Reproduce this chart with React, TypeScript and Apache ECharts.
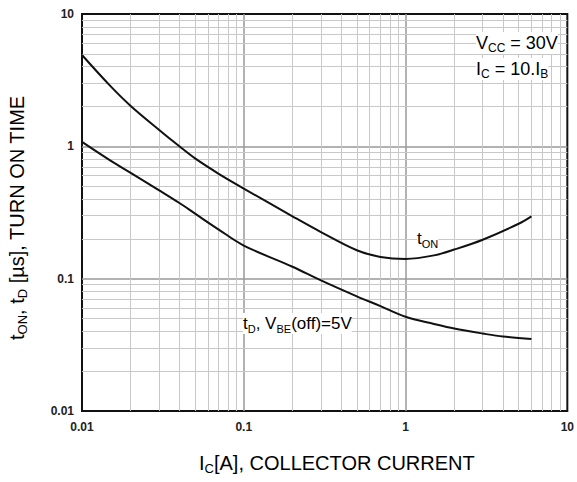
import React, { useEffect, useRef } from "react";
import * as echarts from "echarts";

const tOnX = [0.01, 0.015, 0.02, 0.03, 0.04, 0.05, 0.07, 0.1, 0.2, 0.3, 0.5, 0.7, 1, 1.5, 2, 3, 5, 6];
const tOnY = [4.9, 2.85, 2.02, 1.33, 1.0, 0.81, 0.62, 0.48, 0.296, 0.225, 0.164, 0.146, 0.141, 0.15, 0.166, 0.197, 0.26, 0.296];
const tDX = [0.01, 0.015, 0.02, 0.03, 0.04, 0.05, 0.07, 0.1, 0.2, 0.3, 0.5, 0.7, 1, 1.5, 2, 3, 4, 6];
const tDY = [1.08, 0.78, 0.63, 0.465, 0.373, 0.31, 0.235, 0.178, 0.123, 0.097, 0.0735, 0.062, 0.0515, 0.0455, 0.042, 0.0385, 0.0365, 0.035];
const tickLabels = ["0.01", "0.1", "1", "10"];
const decades = [0.01, 0.1, 1];
const minorMultipliers = [2, 3, 4, 5, 6, 7, 8, 9];

const FONT = "'Liberation Sans', Arial, sans-serif";
const INK = "#222";

function rich(main: number, sub: number, drop: number) {
  return {
    a: { fontSize: main, fontFamily: FONT, color: INK },
    s: { fontSize: sub, fontFamily: FONT, color: INK, padding: [drop, 0, 0, 0] },
  };
}

export default function App() {
  const ref = useRef<HTMLDivElement>(null);
  useEffect(() => {
    if (!ref.current) return;
    const chart = echarts.init(ref.current, undefined, { renderer: "svg" });
    const minorVals: number[] = [];
    decades.forEach((d) => minorMultipliers.forEach((m) => minorVals.push(+(d * m).toPrecision(3))));
    const fmt = (v: number) => tickLabels[Math.round(Math.log10(v)) + 2] ?? "";
    const labelRich = rich(17, 11, 10);
    const titleRich = rich(20, 13, 11);
    chart.setOption({
      animation: false,
      grid: {
        left: 82,
        right: 8,
        top: 14,
        bottom: 71,
        show: true,
        borderColor: "#111",
        borderWidth: 2,
        backgroundColor: "#fff",
      },
      xAxis: {
        type: "log",
        logBase: 10,
        min: 0.01,
        max: 10,
        axisLine: { show: false },
        axisTick: { show: false },
        axisLabel: {
          formatter: fmt,
          fontWeight: "bold",
          fontSize: 12,
          fontFamily: FONT,
          color: INK,
          margin: 10,
        },
        splitLine: { show: true, showMinLine: false, showMaxLine: false, lineStyle: { color: "#999", width: 1.5 } },
      },
      yAxis: {
        type: "log",
        logBase: 10,
        min: 0.01,
        max: 10,
        axisLine: { show: false },
        axisTick: { show: false },
        axisLabel: {
          formatter: fmt,
          fontWeight: "bold",
          fontSize: 12,
          fontFamily: FONT,
          color: INK,
          margin: 8,
        },
        splitLine: { show: true, showMinLine: false, showMaxLine: false, lineStyle: { color: "#999", width: 1.5 } },
      },
      series: [
        {
          type: "line",
          data: [],
          silent: true,
          markLine: {
            silent: true,
            symbol: "none",
            label: { show: false },
            lineStyle: { color: "#c8c8c8", width: 1, type: "solid" },
            data: [
              ...minorVals.map((v) => ({ xAxis: v })),
              ...minorVals.map((v) => ({ yAxis: v })),
            ],
          },
        },
        {
          type: "line",
          name: "tON",
          data: tOnX.map((x, i) => [x, tOnY[i]]),
          smooth: 0.35,
          showSymbol: false,
          lineStyle: { color: "#111", width: 2 },
          z: 5,
        },
        {
          type: "line",
          name: "tD",
          data: tDX.map((x, i) => [x, tDY[i]]),
          smooth: 0.35,
          showSymbol: false,
          lineStyle: { color: "#111", width: 2 },
          z: 5,
        },
      ],
      graphic: [
        {
          type: "text",
          x: 476,
          y: 32,
          z: 10,
          style: { text: "{a|V}{s|CC}{a| = 30V}", rich: rich(18, 12, 10), backgroundColor: "#fff" },
        },
        {
          type: "text",
          x: 476,
          y: 58,
          z: 10,
          style: { text: "{a|I}{s|C}{a| = 10.I}{s|B}", rich: rich(18, 12, 10), backgroundColor: "#fff" },
        },
        {
          type: "text",
          x: 417,
          y: 228,
          z: 10,
          style: { text: "{a|t}{s|ON}", rich: labelRich, backgroundColor: "#fff" },
        },
        {
          type: "text",
          x: 243,
          y: 313,
          z: 10,
          style: { text: "{a|t}{s|D}{a|, V}{s|BE}{a|(off)=5V}", rich: labelRich, backgroundColor: "#fff" },
        },
        {
          type: "text",
          x: 199,
          y: 451,
          style: { text: "{a|I}{s|C}{a|[A], COLLECTOR CURRENT}", rich: titleRich },
        },
        {
          type: "text",
          x: 5,
          y: 340,
          rotation: Math.PI / 2,
          style: { text: "{a|t}{s|ON}{a|, t}{s|D}{a| [µs], TURN ON TIME}", rich: titleRich },
        },
      ],
    });
    return () => chart.dispose();
  }, []);
  return <div ref={ref} style={{ position: "absolute", left: 0, top: 0, width: 577, height: 482 }} />;
}
